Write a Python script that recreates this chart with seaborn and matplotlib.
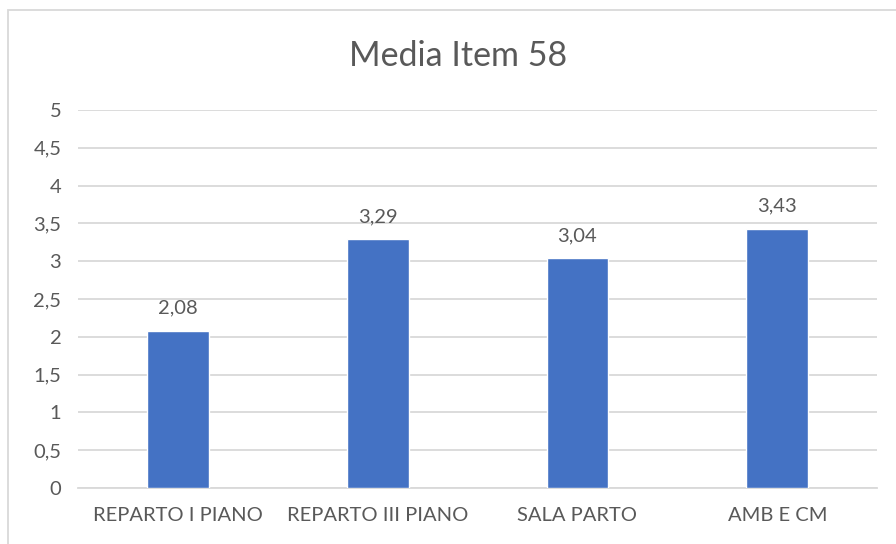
import matplotlib
matplotlib.use("Agg")
import matplotlib.pyplot as plt
import seaborn as sns
import pandas as pd
from matplotlib.patches import Rectangle
from matplotlib.ticker import FuncFormatter

categories = ["REPARTO I PIANO", "REPARTO III PIANO", "SALA PARTO", "AMB E CM"]
values = [2.08, 3.29, 3.04, 3.43]
y_ticks = [0, 0.5, 1, 1.5, 2, 2.5, 3, 3.5, 4, 4.5, 5]

df = pd.DataFrame({"reparto": categories, "media": values})

sns.set_theme(style="white")
plt.rcParams["font.family"] = ["Lato", "DejaVu Sans"]
text_color = "#595959"
grid_color = "#d9d9d9"

fig = plt.figure(figsize=(8.96, 5.44), dpi=100)
ax = fig.add_axes([0.087, 0.103, 0.892, 0.695])

sns.barplot(data=df, x="reparto", y="media", color="#4472C4", width=0.31,
            saturation=1, ax=ax, zorder=3)

ax.set_xlim(-0.5, 3.5)
ax.set_ylim(0, 5)
ax.set_yticks(y_ticks)
ax.yaxis.set_major_formatter(FuncFormatter(lambda v, p: f"{v:g}".replace(".", ",")))
ax.grid(axis="y", color=grid_color, linewidth=1.3, zorder=0)
ax.grid(axis="x", visible=False)
for s in ["top", "right", "left"]:
    ax.spines[s].set_visible(False)
ax.spines["bottom"].set_color(grid_color)
ax.spines["bottom"].set_linewidth(1.3)
ax.tick_params(axis="both", length=0, labelsize=14.5, colors=text_color)
ax.tick_params(axis="x", pad=14)
ax.tick_params(axis="y", pad=12)
ax.set_xlabel("")
ax.set_ylabel("")

for i, v in enumerate(values):
    ax.annotate(f"{v:.2f}".replace(".", ","), (i, v), xytext=(0, 10),
                textcoords="offset points", ha="center", va="bottom",
                fontsize=14.5, color=text_color)

fig.text(0.511, 0.897, "Media Item 58", ha="center", va="center",
         fontsize=24.5, color=text_color)

fig.patches.append(Rectangle((8 / 896, -0.05), 1.1, 1 - 10 / 544 + 0.05,
                             transform=fig.transFigure, fill=False,
                             edgecolor="#d9d9d9", linewidth=1.3))

fig.savefig("out.png", dpi=100)
